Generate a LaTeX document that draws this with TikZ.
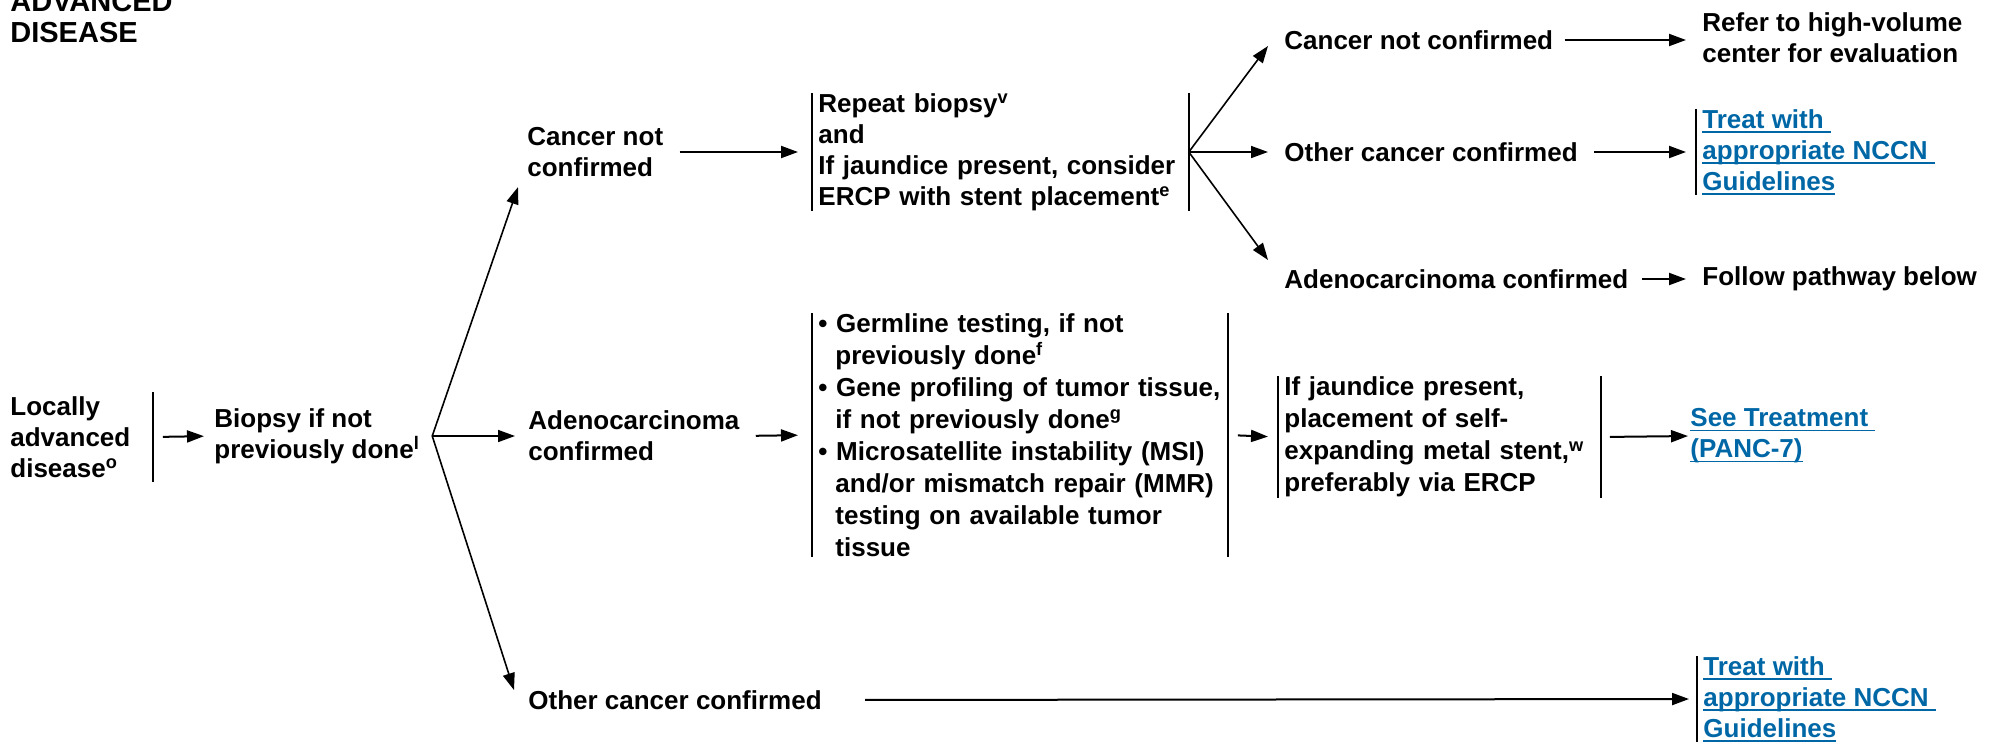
\documentclass[tikz,border=0pt]{standalone}
\usepackage{fontspec}
\setmainfont{Liberation Sans}
\usepackage{tikz}
\usetikzlibrary{positioning}
\usetikzlibrary{arrows.meta}
\usetikzlibrary{calc}

\definecolor{linkblue}{RGB}{0,103,166}
\newcommand{\lnk}[1]{{\color{linkblue}\setbox0\hbox{#1}\rlap{\rule[-2.2pt]{\wd0}{0.8pt}}\box0}}
\newcommand{\cont}{\hspace*{8.5pt}}

\begin{document}
\begin{tikzpicture}[
        x = 0.5pt, y = -0.5pt, % one unit per pixel, y downwards
        > = {Triangle[length=8.5pt,width=6pt]}, % arrow head style
        every node/.style = {inner sep=0pt, align=left,
            font=\bfseries\fontsize{13}{15.5}\selectfont}
    ]

    \tikzstyle{txt}=[anchor=west]
    \tikzstyle{box}=[anchor=west, inner xsep=3pt]
    \tikzstyle{arr}=[->, line width=1pt, shorten <=5pt, shorten >=5pt]
    \tikzstyle{fork}=[->, line width=0.8pt]
    \tikzstyle{bar}=[line width=1pt]

    \useasboundingbox (0,0) rectangle (1990,741);

    % heading
    \node[anchor=south west, font=\bfseries\fontsize{14.5}{15.5}\selectfont] (TTL) at (10,43) {ADVANCED\\DISEASE};

    % entry level
    \node[txt, text width=71pt, inner ysep=2pt] (LAD) at (10,437) {Locally\\advanced\\disease\textsuperscript{o}};
    \node[txt] (BIO) at (214,436) {Biopsy if not\\previously done\textsuperscript{l}};
    \coordinate[right=6pt of BIO.east] (BV);

    \draw[bar] (LAD.north east) -- (LAD.south east);
    \draw[arr] (LAD.east) -- (BIO.west);

    % biopsy results
    \node[txt] (CNC) at (527,152) {Cancer not\\confirmed};
    \node[txt] (ADC) at (528,436) {Adenocarcinoma\\confirmed};
    \node[txt] (OCC) at (528,700) {Other cancer confirmed};

    \draw[fork] (BV) -- ([shift={(-9,10)}]CNC.south west);
    \draw[fork, shorten >=6.5pt] (BV) -- (ADC.west);
    \draw[fork] (BV) -- ([shift={(-14,0)}]OCC.north west);

    % cancer not confirmed
    \node[box, text width=182pt] (RB) at (812,152) {Repeat biopsy\textsuperscript{v}\\and\\If jaundice present, consider\\ERCP with stent placement\textsuperscript{e}};
    \draw[bar] (RB.north west) -- (RB.south west) (RB.north east) -- (RB.south east);
    \draw[arr, shorten <=8pt, shorten >=7pt] (CNC.east) -- (RB.west);

    \node[txt] (CNC2) at (1284,40) {Cancer not confirmed};
    \node[txt] (OCC2) at (1284,152) {Other cancer confirmed};
    \node[txt] (ADC2) at (1284,279) {Adenocarcinoma confirmed};

    \draw[fork] (RB.east) -- ([shift={(-16,6)}]CNC2.west);
    \draw[fork, shorten >=8pt] (RB.east) -- (OCC2.west);
    \draw[fork] (RB.east) -- ([shift={(-16,-19)}]ADC2.west);

    \node[txt] (REF) at (1702,38) {Refer to high-volume\\center for evaluation};
    \node[box] (TR1) at (1696,152) {\lnk{Treat with\ }\\\lnk{appropriate NCCN\ }\\\lnk{Guidelines}};
    \node[txt] (FPB) at (1702,279) {Follow pathway below};
    \draw[bar] (TR1.north west) -- (TR1.south west);

    \draw[arr, shorten <=5.5pt, shorten >=8pt] (CNC2.east) -- (CNC2.east -| REF.west);
    \draw[arr, shorten <=8pt] (OCC2.east) -- (TR1.west);
    \draw[arr, shorten <=6.5pt, shorten >=8pt] (ADC2.east) -- (FPB.west);

    % adenocarcinoma confirmed
    \node[box, text width=201.5pt, font=\bfseries\fontsize{13}{16}\selectfont] (GT) at (812,435) {%
        \textbullet\ Germline testing, if not\\\cont previously done\textsuperscript{f}\\%
        \textbullet\ Gene profiling of tumor tissue,\\\cont if not previously done\textsuperscript{g}\\%
        \textbullet\ Microsatellite instability (MSI)\\\cont and/or mismatch repair (MMR)\\\cont testing on available tumor\\\cont tissue};
    \draw[bar] (GT.north west) -- (GT.south west) (GT.north east) -- (GT.south east);
    \draw[arr, shorten <=8pt, shorten >=7pt] (ADC.east) -- (GT.west);

    \node[box, text width=155pt, font=\bfseries\fontsize{13}{16}\selectfont] (ST) at (1278,437) {If jaundice present,\\placement of self-\\expanding metal stent,\textsuperscript{w}\\preferably via ERCP};
    \draw[bar] (ST.north west) -- (ST.south west) (ST.north east) -- (ST.south east);
    \draw[arr] (GT.east) -- (ST.west);

    \node[txt] (PT) at (1690,436) {\lnk{See Treatment\ }\\\lnk{(PANC-7)}};
    \draw[arr, shorten <=4.5pt, shorten >=1pt] (ST.east) -- (PT.west);

    % other cancer confirmed
    \node[box] (TR2) at (1697,699) {\lnk{Treat with\ }\\\lnk{appropriate NCCN\ }\\\lnk{Guidelines}};
    \draw[bar] (TR2.north west) -- (TR2.south west);
    \draw[arr, shorten <=21.5pt, shorten >=4pt] (OCC.east) -- (TR2.west);

\end{tikzpicture}
\end{document}
